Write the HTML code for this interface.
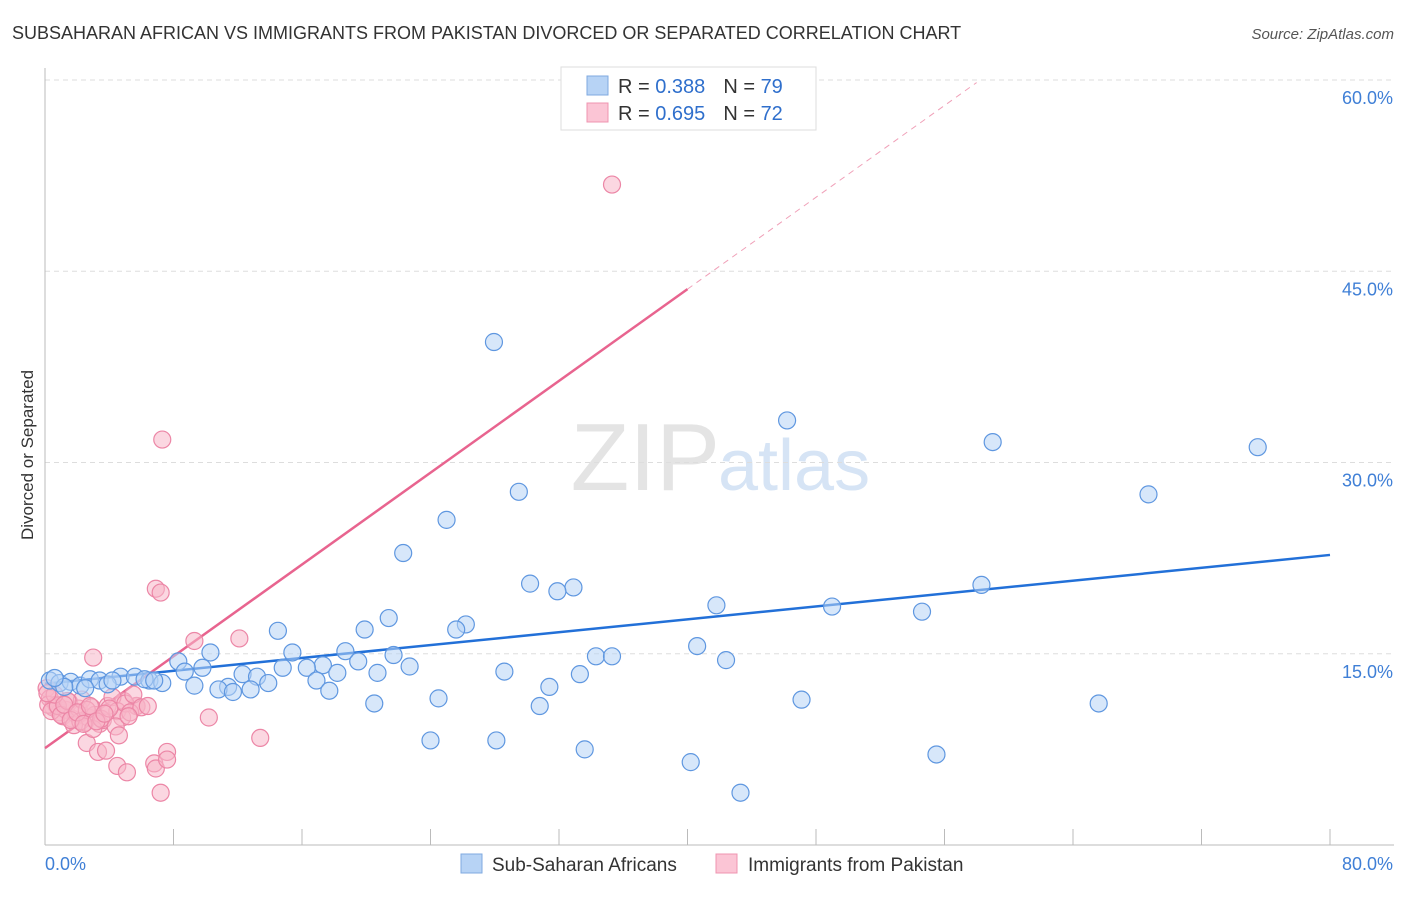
<!DOCTYPE html>
<html><head><meta charset="utf-8"><style>
body{margin:0;background:#fff;font-family:"Liberation Sans",sans-serif;}
svg text{font-family:"Liberation Sans",sans-serif;}
</style></head><body>
<svg id="chart" width="1406" height="892" viewBox="0 0 1406 892" xmlns="http://www.w3.org/2000/svg">
<text x="12" y="39" font-size="18" fill="#333">SUBSAHARAN AFRICAN VS IMMIGRANTS FROM PAKISTAN DIVORCED OR SEPARATED CORRELATION CHART</text>
<text x="1394" y="39" font-size="15" fill="#555" font-style="italic" text-anchor="end">Source: ZipAtlas.com</text>
<text x="720" y="490" font-size="96" fill="#e4e4e4" text-anchor="end" font-family="Liberation Serif">ZIP</text>
<text x="718" y="490" font-size="72" fill="#d6e4f5">atlas</text>
<g id="grid"></g>
<g id="axes"></g>
<g id="lines"></g>
<g id="pts"></g>
<text transform="translate(33,455) rotate(-90)" font-size="17" fill="#333" text-anchor="middle">Divorced or Separated</text>
<g>
<rect x="561" y="67" width="255" height="63" fill="#fff" stroke="#ddd"/>
<rect x="587" y="76" width="21" height="19" fill="#b7d3f5" stroke="#7fa9e0"/>
<rect x="587" y="103" width="21" height="19" fill="#fbc5d5" stroke="#ef94b0"/>
<text x="618" y="93" font-size="20" fill="#333">R = <tspan fill="#2f6fcc">0.388</tspan><tspan dx="18">N = </tspan><tspan fill="#2f6fcc">79</tspan></text>
<text x="618" y="120" font-size="20" fill="#333">R = <tspan fill="#2f6fcc">0.695</tspan><tspan dx="18">N = </tspan><tspan fill="#2f6fcc">72</tspan></text>
</g>
<g>
<rect x="461" y="854" width="21" height="19" fill="#b7d3f5" stroke="#7fa9e0"/>
<text x="492" y="871" font-size="19" fill="#333">Sub-Saharan Africans</text>
<rect x="716" y="854" width="21" height="19" fill="#fbc5d5" stroke="#ef94b0"/>
<text x="748" y="871" font-size="19" fill="#333">Immigrants from Pakistan</text>
</g>
</svg>
<script>
const yTicks=[15,30,45,60];
const yTickLabels=["15.0%","30.0%","45.0%","60.0%"];
const xTicks=[0,8,16,24,32,40,48,56,64,72,80];
const xEndLabels=["0.0%","80.0%"];
const blueX=[27.95,46.2,59.0,75.5,29.5,68.7,25.0,22.3,30.2,32.9,31.9,58.3,41.8,49.0,54.6,21.4,26.2,25.6,19.9,14.5,40.6,18.7,10.3,15.4,21.7,34.3,35.3,42.4,8.3,19.5,22.7,17.3,16.3,14.8,9.8,28.6,33.3,20.7,8.7,12.3,18.2,13.2,16.9,4.7,5.6,6.5,7.3,0.3,0.9,1.6,2.2,2.8,3.4,3.9,6.2,6.8,13.9,9.3,11.4,10.8,11.7,12.8,17.7,31.4,24.5,47.1,65.6,20.5,30.8,24.0,28.1,33.6,55.5,40.2,43.3,1.2,0.6,2.5,4.2];
const blueY=[39.45,33.3,31.6,31.2,27.7,27.5,25.5,22.9,20.5,20.2,19.9,20.4,18.8,18.7,18.3,17.8,17.3,16.9,16.9,16.8,15.6,15.2,15.1,15.1,14.9,14.8,14.8,14.5,14.4,14.4,14.0,14.1,13.9,13.9,13.9,13.6,13.4,13.5,13.6,13.4,13.5,13.2,12.9,13.2,13.2,12.9,12.7,12.9,12.7,12.8,12.5,13.0,12.9,12.6,13.0,12.9,12.7,12.5,12.4,12.2,12.0,12.2,12.1,12.4,11.5,11.4,11.1,11.1,10.9,8.2,8.2,7.5,7.1,6.5,4.1,12.4,13.1,12.3,12.9];
const pinkX=[35.3,7.3,6.9,7.2,9.3,12.1,3.0,10.2,13.4,2.6,3.3,3.8,4.5,5.1,6.8,6.9,7.6,7.6,7.2,5.7,5.7,4.9,0.1,0.3,0.5,0.7,0.9,1.1,1.3,1.5,1.7,1.9,2.1,2.3,2.5,2.7,2.9,3.1,3.4,3.6,3.9,4.2,4.5,4.8,5.0,5.3,5.5,6.0,0.2,0.4,0.8,1.0,1.4,1.8,2.2,2.6,3.0,3.5,4.0,4.4,0.6,1.2,1.6,2.0,2.4,2.8,3.2,3.7,4.6,5.2,0.15,6.4];
const pinkY=[51.8,31.8,20.1,19.8,16.0,16.2,14.7,10.0,8.4,8.0,7.3,7.4,6.2,5.7,6.4,6.0,7.3,6.7,4.1,10.9,10.9,11.3,12.3,11.5,10.8,11.0,10.4,10.1,10.6,11.2,9.9,10.3,10.7,11.4,9.6,10.0,10.8,10.2,9.5,9.8,10.9,11.6,10.5,10.0,11.1,10.4,11.8,10.8,11.0,10.5,10.9,10.2,11.3,9.4,9.7,10.6,9.1,9.9,10.7,9.3,11.8,11.0,9.8,10.4,9.5,10.9,9.7,10.3,8.6,10.1,11.9,10.9];
const blueFit=[12.65,22.75];
const pinkFit=[7.6,43.6];
const X0=45,X1=1330,Y0=845,PPY=12.75;
const sx=v=>X0+v/80*(X1-X0);
const sy=v=>Y0-v*PPY;
const NS="http://www.w3.org/2000/svg";
function mk(tag,attrs,parent){const e=document.createElementNS(NS,tag);for(const k in attrs)e.setAttribute(k,attrs[k]);parent.appendChild(e);return e;}
const grid=document.getElementById('grid'),axes=document.getElementById('axes'),lines=document.getElementById('lines'),pts=document.getElementById('pts');
yTicks.forEach((t,i)=>{
 const l=mk('line',{x1:X0,x2:1394,y1:sy(t),y2:sy(t),stroke:'#ddd','stroke-dasharray':'5,4'},grid);
 
 
 const tx=mk('text',{x:1393,y:sy(t)+24,'font-size':18,fill:'#3f7fd6','text-anchor':'end'},axes);
 tx.textContent=yTickLabels[i];
 
 
});
const ax=mk('line',{x1:X0,x2:X0,y1:68,y2:Y0,stroke:'#bbb'},axes);


const bx=mk('line',{x1:X0,x2:1394,y1:Y0,y2:Y0,stroke:'#bbb'},axes);


xTicks.forEach(t=>{
 const l=mk('line',{x1:sx(t),x2:sx(t),y1:Y0-16,y2:Y0,stroke:'#bbb'},axes);
 
 
});
const xl0=mk('text',{x:45,y:870,'font-size':18,fill:'#3f7fd6'},axes);xl0.textContent=xEndLabels[0];


const xl1=mk('text',{x:1393,y:870,'font-size':18,fill:'#3f7fd6','text-anchor':'end'},axes);xl1.textContent=xEndLabels[1];


function drawPts(xs,ys,fill,stroke,name){
 xs.forEach((x,i)=>{
  const c=mk('circle',{cx:sx(x),cy:sy(ys[i]),r:8.5,fill:fill,'fill-opacity':0.55,stroke:stroke,'stroke-width':1.2},pts);
  
  
 });
}
drawPts(pinkX,pinkY,'#f8b6c9','#ec86a6','pakistan-point');
drawPts(blueX,blueY,'#b7d3f5','#5f97e0','subsaharan-point');
const bl=mk('line',{x1:sx(0),y1:sy(blueFit[0]),x2:sx(80),y2:sy(blueFit[1]),stroke:'#2270d8','stroke-width':2.5},lines);


const slope=(pinkFit[1]-pinkFit[0])/40;
const pxEnd=40,pxDash=58;
const pl=mk('line',{x1:sx(0),y1:sy(pinkFit[0]),x2:sx(pxEnd),y2:sy(pinkFit[0]+slope*pxEnd),stroke:'#e8648f','stroke-width':2.5},lines);


const pd=mk('line',{x1:sx(pxEnd),y1:sy(pinkFit[0]+slope*pxEnd),x2:sx(pxDash),y2:sy(pinkFit[0]+slope*pxDash),stroke:'#f0a0b8','stroke-width':1,'stroke-dasharray':'6,5'},lines);


</script>
</body></html>
